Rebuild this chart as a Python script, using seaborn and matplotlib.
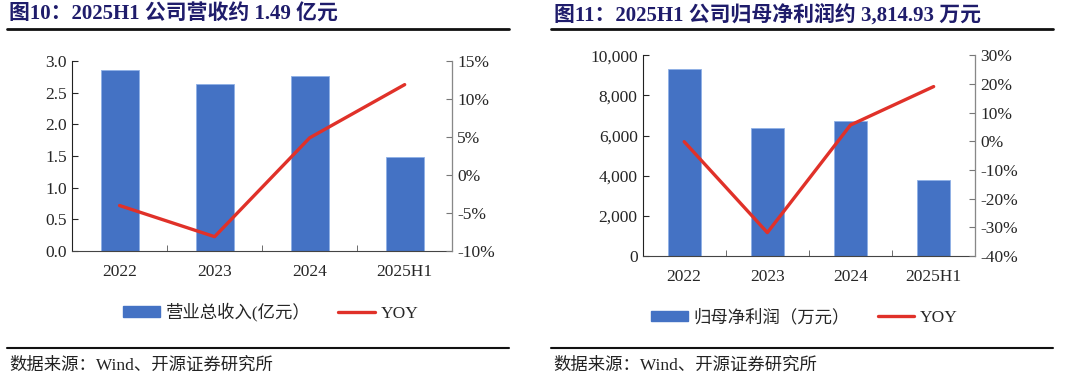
import matplotlib
matplotlib.use("Agg")
import matplotlib.pyplot as plt
import matplotlib.ticker as mticker
from matplotlib.lines import Line2D
from matplotlib.patches import Patch
import seaborn as sns
import pandas as pd

years = ["2022", "2023", "2024", "2025H1"]
revenue = [2.86, 2.63, 2.76, 1.49]          # 亿元
revenue_yoy = [-4.0, -8.1, 4.9, 11.9]       # %
profit = [9320, 6360, 6730, 3814.93]        # 万元
profit_yoy = [-0.1, -31.8, 5.7, 19.1]       # %

BAR = "#4472C4"
RED = "#E03129"
NAVY = "#1f1c6b"
TICK_FS = 12.5

sns.set_style("ticks")
plt.rcParams["font.family"] = ["Liberation Serif", "Noto Sans CJK SC"]
plt.rcParams["axes.unicode_minus"] = False

fig = plt.figure(figsize=(10.8, 3.84), dpi=100)


def panel(rect, values, yoy, ylim, yticks, yfmt, y2lim, y2ticks):
    ax = fig.add_axes(rect)
    df = pd.DataFrame({"year": years, "value": values})
    sns.barplot(data=df, x="year", y="value", color=BAR, width=0.4,
                edgecolor="#8fb0e6", linewidth=0.6, saturation=1, ax=ax)
    ax.set_xlim(-0.5, 3.5)
    ax.set_ylim(*ylim)
    ax.set_yticks(yticks)
    ax.yaxis.set_major_formatter(yfmt)
    ax.set_xlabel("")
    ax.set_ylabel("")
    ax.set_xticks([0.5, 1.5, 2.5], minor=True)
    ax.tick_params(axis="x", which="major", length=0, labelsize=TICK_FS, pad=9)
    ax.tick_params(axis="x", which="minor", direction="in", length=4, color="#555555")
    ax.tick_params(axis="y", direction="in", length=4, labelsize=TICK_FS)
    ax.spines["top"].set_visible(False)
    ax.spines["left"].set_color("#222222")
    ax.spines["bottom"].set_color("#444444")

    ax2 = ax.twinx()
    sns.lineplot(x=list(range(len(years))), y=yoy, color=RED, linewidth=2.4, ax=ax2)
    ax2.set_ylim(*y2lim)
    ax2.set_yticks(y2ticks)
    ax2.yaxis.set_major_formatter(mticker.FuncFormatter(lambda v, p: f"{v:.0f}%"))
    ax2.tick_params(axis="y", direction="in", length=4, labelsize=TICK_FS, color="#777777")
    ax2.spines["top"].set_visible(False)
    ax2.spines["left"].set_visible(False)
    ax2.spines["bottom"].set_visible(False)
    ax2.spines["right"].set_color("#888888")
    ax2.set_xlim(-0.5, 3.5)
    return ax, ax2


panel([0.0667, 0.346, 0.352, 0.495], revenue, revenue_yoy,
      (0, 3.0), [0, 0.5, 1.0, 1.5, 2.0, 2.5, 3.0],
      mticker.FormatStrFormatter("%.1f"),
      (-10, 15), [-10, -5, 0, 5, 10, 15])
panel([0.595, 0.333, 0.308, 0.523], profit, profit_yoy,
      (0, 10000), [0, 2000, 4000, 6000, 8000, 10000],
      mticker.FuncFormatter(lambda v, p: f"{v:,.0f}"),
      (-40, 30), [-40, -30, -20, -10, 0, 10, 20, 30])

for cx, cy, label in [(0.251, 0.187, "营业总收入(亿元）"), (0.745, 0.173, "归母净利润（万元）")]:
    handles = [Patch(facecolor=BAR, edgecolor=BAR), Line2D([], [], color=RED, linewidth=2.4)]
    fig.legend(handles, [label, "YOY"], loc="center", bbox_to_anchor=(cx, cy),
               ncol=2, frameon=False, fontsize=12.5, handlelength=2.1, handleheight=0.55,
               columnspacing=1.6, handletextpad=0.35)

titles = [(0.008, "图10：2025H1 公司营收约 1.49 亿元"),
          (0.513, "图11：2025H1 公司归母净利润约 3,814.93 万元")]
for x, t in titles:
    fig.text(x, 0.962, t, fontsize=15, fontweight="bold", color=NAVY, va="center", ha="left")

for x0, x1 in [(0.0065, 0.471), (0.510, 0.975)]:
    fig.add_artist(Line2D([x0, x1], [0.924, 0.924], color="#111111", linewidth=2.0))
    fig.add_artist(Line2D([x0, x1], [0.094, 0.094], color="#111111", linewidth=1.5))
    fig.text(x0 + 0.002, 0.048, "数据来源：Wind、开源证券研究所", fontsize=12.5, color="#222222",
             va="center", ha="left")

fig.savefig("out.png", dpi=100)
